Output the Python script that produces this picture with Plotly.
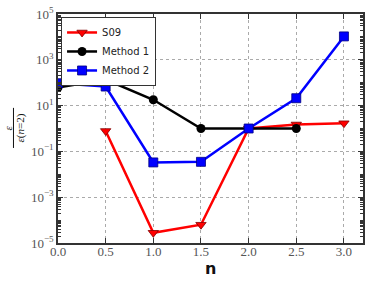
import plotly.graph_objects as go

n_s09 = [0.5, 1.0, 1.5, 2.0, 2.5, 3.0]
eps_s09 = [0.78, 2.8e-5, 6.3e-5, 1.0, 1.5, 1.7]

n_m1 = [0.0, 0.5, 1.0, 1.5, 2.0, 2.5]
eps_m1 = [61, 138, 18, 1.0, 1.0, 1.0]

n_m2 = [0.0, 0.5, 1.0, 1.5, 2.0, 2.5, 3.0]
eps_m2 = [95, 68, 0.033, 0.035, 1.0, 21, 10500]

x_ticks = [0.0, 0.5, 1.0, 1.5, 2.0, 2.5, 3.0]
y_ticks = [1e-5, 1e-3, 1e-1, 1e1, 1e3, 1e5]
y_ticktext = ["10<sup>−5</sup>", "10<sup>−3</sup>", "10<sup>−1</sup>", "10<sup>1</sup>", "10<sup>3</sup>", "10<sup>5</sup>"]

fig = go.Figure()
fig.add_trace(go.Scatter(x=n_s09, y=eps_s09, name="S09", mode="lines+markers",
                         line=dict(color="#ff0000", width=2.5),
                         marker=dict(symbol="triangle-down", size=9, color="#ff0000",
                                     line=dict(color="#800000", width=0.8))))
fig.add_trace(go.Scatter(x=n_m1, y=eps_m1, name="Method 1", mode="lines+markers",
                         line=dict(color="#000000", width=2.5),
                         marker=dict(symbol="circle", size=9, color="#000000")))
fig.add_trace(go.Scatter(x=n_m2, y=eps_m2, name="Method 2", mode="lines+markers",
                         line=dict(color="#0000ff", width=2.5),
                         marker=dict(symbol="square", size=9, color="#0000ff",
                                     line=dict(color="#000080", width=0.8))))

serif = "'Liberation Serif', 'DejaVu Serif', serif"
sans = "'DejaVu Sans', 'Liberation Sans', sans-serif"
fig.update_layout(
    width=382, height=286,
    margin=dict(l=58, r=19, t=14, b=43, autoexpand=False),
    paper_bgcolor="white", plot_bgcolor="white",
    font=dict(family=serif, size=12, color="#444"),
    legend=dict(x=0.01, y=0.987, xanchor="left", yanchor="top",
                bgcolor="white", bordercolor="#333", borderwidth=1,
                font=dict(family=sans, size=10, color="#222"),
                itemwidth=30, tracegroupgap=0),
    showlegend=True,
)
fig.update_xaxes(
    range=[0, 3.2], tickvals=x_ticks, ticktext=[f"{v:.1f}" for v in x_ticks],
    showgrid=True, gridcolor="#aaa", griddash="dot", gridwidth=1,
    ticks="inside", ticklen=5, tickcolor="#333", mirror="allticks",
    showline=True, linecolor="#333", linewidth=1.5, zeroline=False, automargin=False,
    tickfont=dict(family=serif, size=13, color="#555"),
    ticklabelstandoff=-4, ticklabeloverflow="allow",
)
fig.update_yaxes(
    type="log", range=[-5, 5], tickvals=y_ticks, ticktext=y_ticktext,
    showgrid=True, gridcolor="#aaa", griddash="dot", gridwidth=1,
    ticks="inside", ticklen=5, tickcolor="#333", mirror="allticks",
    showline=True, linecolor="#333", linewidth=1.5, zeroline=False, automargin=False,
    tickfont=dict(family=serif, size=13, color="#555"),
    ticklabeloverflow="allow",
    minor=dict(ticks="inside", ticklen=3, tickcolor="#333", dtick="D1", showgrid=False),
)
# x-axis title
fig.add_annotation(
    xref="paper", yref="paper", x=0.5, y=0, yshift=-25, xanchor="center", yanchor="middle",
    showarrow=False, text="<b>n</b>",
    font=dict(family=sans, size=16, color="#111"),
)
# y-axis title as a fraction
fig.add_annotation(
    xref="paper", yref="paper", x=0, xshift=-51, y=0.5, xanchor="center", yanchor="middle",
    textangle=-90, showarrow=False, text="<i>ε</i>",
    font=dict(family=serif, size=11, color="#111"),
)
fig.add_annotation(
    xref="paper", yref="paper", x=0, xshift=-38, y=0.5, xanchor="center", yanchor="middle",
    textangle=-90, showarrow=False, text="<i>ε</i>(<i>n</i>=2)",
    font=dict(family=serif, size=11, color="#111"),
)
fig.add_shape(
    type="line", xref="paper", yref="paper", x0=-0.146, x1=-0.146, y0=0.415, y1=0.59,
    line=dict(color="#111", width=1),
)

fig.write_html("out.html", config={"displayModeBar": False},
               post_script="document.body.style.margin='0';")
